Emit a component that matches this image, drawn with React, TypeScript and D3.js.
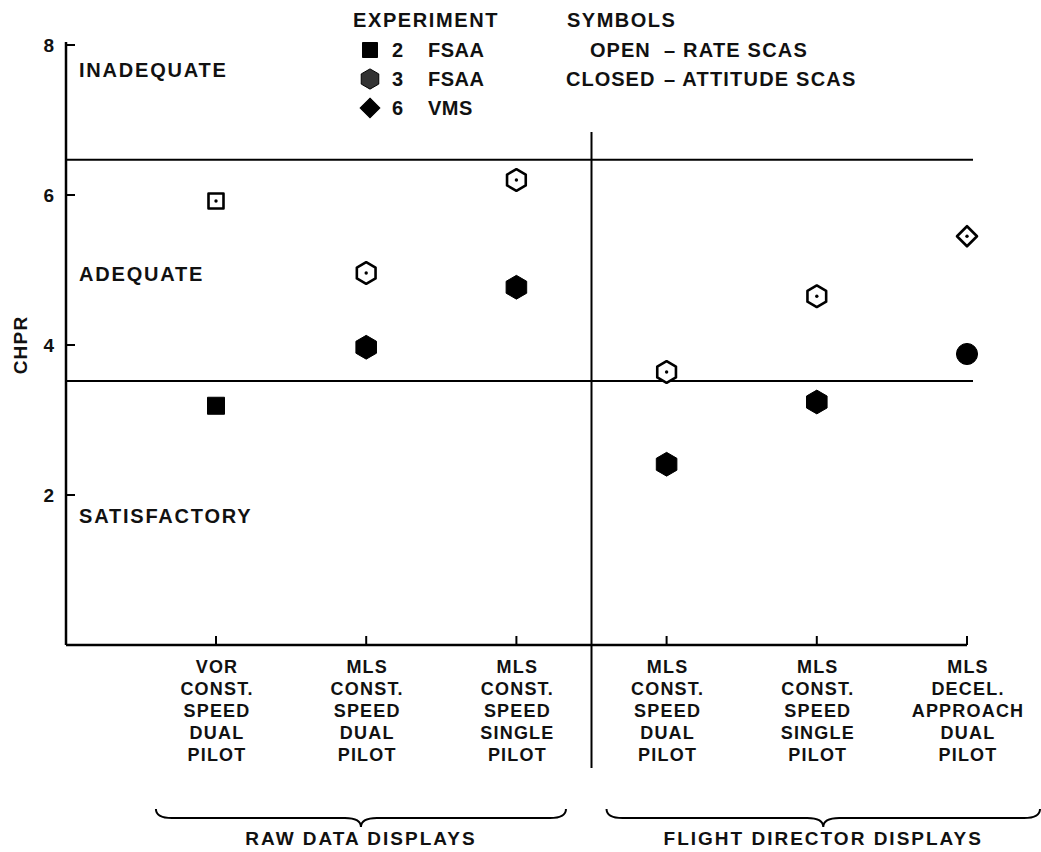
import React from "react";
import * as d3 from "d3";

// piloting rating data
const categories = [
  ["VOR", "CONST.", "SPEED", "DUAL", "PILOT"],
  ["MLS", "CONST.", "SPEED", "DUAL", "PILOT"],
  ["MLS", "CONST.", "SPEED", "SINGLE", "PILOT"],
  ["MLS", "CONST.", "SPEED", "DUAL", "PILOT"],
  ["MLS", "CONST.", "SPEED", "SINGLE", "PILOT"],
  ["MLS", "DECEL.", "APPROACH", "DUAL", "PILOT"],
];
const experiment = [2, 3, 3, 3, 3, 6];
const openValues = [5.92, 4.96, 6.2, 3.64, 4.65, 5.45]; // rate SCAS
const closedValues = [3.19, 3.97, 4.77, 2.41, 3.24, 3.88]; // attitude SCAS

const yTicks = [2, 4, 6, 8];
const boundaries = [6.47, 3.52];
const ratingNames = ["INADEQUATE", "ADEQUATE", "SATISFACTORY"];
const ratingLabelAt = [7.57, 4.85, 1.63];

const groups = ["RAW DATA DISPLAYS", "FLIGHT DIRECTOR DISPLAYS"];
const groupFirst = [0, 3];
const groupLast = [2, 5];

const legendIds = ["2", "3", "6"];
const legendFacility = ["FSAA", "FSAA", "VMS"];
const symbolKinds = ["OPEN", "CLOSED"];
const symbolMeaning = ["– RATE SCAS", "– ATTITUDE SCAS"];

const width = 1041, height = 852;
const font = "'Liberation Sans', Arial, Helvetica, sans-serif";

function shapePath(exp, closed, s) {
  if (exp === 2) {
    return `M${-s},${-s}H${s}V${s}H${-s}Z`;
  }
  if (exp === 3) {
    const r = s * 1.35;
    const pts = d3.range(6).map((i) => {
      const a = (Math.PI / 3) * i - Math.PI / 2;
      return [r * Math.cos(a), r * Math.sin(a)];
    });
    return "M" + pts.map((p) => p.join(",")).join("L") + "Z";
  }
  if (closed) {
    const r = s * 1.2;
    return `M${-r},0A${r},${r} 0 1,0 ${r},0A${r},${r} 0 1,0 ${-r},0Z`;
  }
  const d = s * 1.25;
  return `M0,${-d}L${d},0L0,${d}L${-d},0Z`;
}

function Marker({ x, y, exp, closed, s }) {
  return (
    <g transform={`translate(${x},${y})`}>
      <path
        d={shapePath(exp, closed, s)}
        fill={closed ? "#000" : "#fff"}
        stroke="#000"
        strokeWidth={closed ? 1 : 2.6}
        strokeLinejoin="round"
      />
      {!closed && <circle r={1.7} fill="#000" />}
    </g>
  );
}

export default function App() {
  const x = d3.scalePoint().domain(d3.range(categories.length)).range([216, 967]);
  const step = x.step();
  const y = d3.scaleLinear().domain([0, 8]).range([645, 45]);
  const x0 = 66;
  const dividerX = (x(2) + x(3)) / 2;

  const brace = (a, b, yTop, yMid, tip) => {
    const m = (a + b) / 2;
    const r = 8;
    return `M${a},${yTop}Q${a},${yMid} ${a + r * 2},${yMid}L${m - r * 2},${yMid}Q${m},${yMid} ${m},${tip}Q${m},${yMid} ${m + r * 2},${yMid}L${b - r * 2},${yMid}Q${b},${yMid} ${b},${yTop}`;
  };

  const txt = { fontFamily: font, fontWeight: 700, fill: "#111" };

  return (
    <svg width={width} height={height} style={{ position: "absolute", left: 0, top: 0, background: "#fff" }}>
      {/* axes */}
      <line x1={x0} x2={x0} y1={y(8) - 3} y2={y(0)} stroke="#000" strokeWidth={2.5} />
      <line x1={x0} x2={x(5)} y1={y(0)} y2={y(0)} stroke="#000" strokeWidth={2.5} />
      {yTicks.map((t) => (
        <g key={t}>
          <line x1={x0} x2={x0 + 9} y1={y(t)} y2={y(t)} stroke="#000" strokeWidth={2} />
          <text x={54} y={y(t)} dy="0.36em" textAnchor="end" fontSize={19} style={txt}>{t}</text>
        </g>
      ))}
      {categories.map((c, i) => (
        <line key={i} x1={x(i)} x2={x(i)} y1={y(0)} y2={y(0) - 9} stroke="#000" strokeWidth={2} />
      ))}
      <text transform={`translate(27,${y(4)}) rotate(-90)`} textAnchor="middle" fontSize={19} letterSpacing={1.2} style={txt}>CHPR</text>

      {/* boundary lines and divider */}
      {boundaries.map((b) => (
        <line key={b} x1={x0} x2={x(5) + 6} y1={y(b)} y2={y(b)} stroke="#000" strokeWidth={2} />
      ))}
      <line x1={dividerX} x2={dividerX} y1={132} y2={768} stroke="#000" strokeWidth={2} />

      {ratingNames.map((n, i) => (
        <text key={n} x={79} y={y(ratingLabelAt[i])} fontSize={20} letterSpacing={1.8} style={txt}>{n}</text>
      ))}

      {/* data */}
      {categories.map((c, i) => (
        <g key={"d" + i}>
          <Marker x={x(i)} y={y(openValues[i])} exp={experiment[i]} closed={false} s={experiment[i] === 2 ? 7.5 : 8} />
          <Marker x={x(i)} y={y(closedValues[i])} exp={experiment[i]} closed={true} s={experiment[i] === 2 ? 8.5 : 8.8} />
        </g>
      ))}

      {/* category labels */}
      {categories.map((lines, i) => (
        <text key={"c" + i} textAnchor="middle" fontSize={18} letterSpacing={1.2} style={txt}>
          {lines.map((l, j) => (
            <tspan key={j} x={x(i) + 1} y={673 + j * 22}>{l}</tspan>
          ))}
        </text>
      ))}

      {/* group braces */}
      {groups.map((g, i) => {
        const a = x(groupFirst[i]) - step * 0.4;
        const b = i === groups.length - 1 ? width - 1 : x(groupLast[i]) + step * 0.33;
        const m = (a + b) / 2;
        return (
          <g key={g}>
            <path d={brace(a, b, 809, 818, 827)} fill="none" stroke="#000" strokeWidth={2} />
            <text x={m} y={845} textAnchor="middle" fontSize={19} letterSpacing={2} style={txt}>{g}</text>
          </g>
        );
      })}

      {/* legend */}
      <text x={353} y={27} fontSize={20} letterSpacing={1.6} style={txt}>EXPERIMENT</text>
      {legendIds.map((id, i) => (
        <g key={id}>
          <g transform={`translate(370,${50 + i * 29})`}>
            <path
              d={shapePath(+id, !(id === "6"), 7.5)}
              transform={id === "6" ? "scale(1.05)" : undefined}
              fill={id === "3" ? "#333" : "#000"}
              stroke="#000"
              strokeWidth={1}
            />
          </g>
          <text x={392} y={57 + i * 29} fontSize={20} style={txt}>{id}</text>
          <text x={428} y={57 + i * 29} fontSize={20} letterSpacing={0.5} style={txt}>{legendFacility[i]}</text>
        </g>
      ))}
      <text x={567} y={27} fontSize={20} letterSpacing={1.5} style={txt}>SYMBOLS</text>
      {symbolKinds.map((k, i) => (
        <g key={k}>
          <text x={i === 0 ? 590 : 566} y={57 + i * 29} fontSize={20} letterSpacing={1} style={txt}>{k}</text>
          <text x={664} y={57 + i * 29} fontSize={20} letterSpacing={1.2} style={txt}>{symbolMeaning[i]}</text>
        </g>
      ))}
    </svg>
  );
}
